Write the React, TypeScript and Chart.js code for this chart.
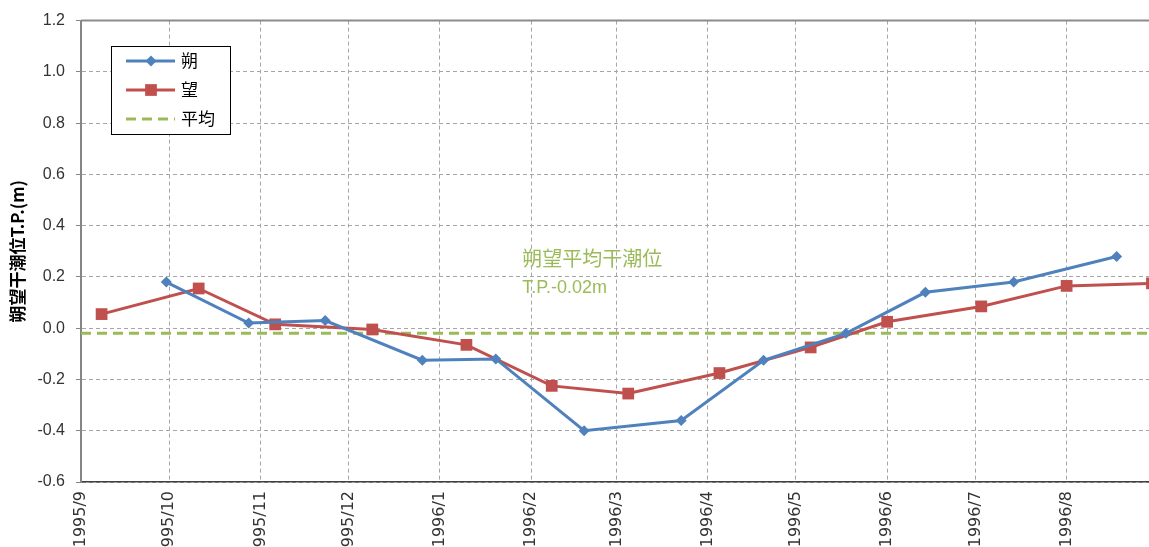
import React, { useEffect, useRef } from 'react';
import { Chart, registerables } from 'chart.js';

Chart.register(...registerables);

// ---- data ----
const xTickLabels = ['1995/9', '1995/10', '1995/11', '1995/12', '1996/1', '1996/2', '1996/3', '1996/4', '1996/5', '1996/6', '1996/7', '1996/8'];
const axisStart = '1995-09-01';
const axisEnd = '1996-08-29';

const seriesNames = ['朔', '望', '平均'];

const newMoonDates = ['1995-09-30', '1995-10-28', '1995-11-23', '1995-12-26', '1996-01-20', '1996-02-19', '1996-03-23', '1996-04-20', '1996-05-18', '1996-06-14', '1996-07-14', '1996-08-18'];
const newMoonLevels = [0.18, 0.02, 0.03, -0.125, -0.12, -0.4, -0.36, -0.125, -0.02, 0.14, 0.18, 0.28];

const fullMoonDates = ['1995-09-08', '1995-10-11', '1995-11-06', '1995-12-09', '1996-01-10', '1996-02-08', '1996-03-05', '1996-04-05', '1996-05-06', '1996-06-01', '1996-07-03', '1996-08-01', '1996-08-30'];
const fullMoonLevels = [0.055, 0.155, 0.015, -0.005, -0.065, -0.225, -0.255, -0.175, -0.075, 0.025, 0.085, 0.165, 0.175];

const meanLowWater = -0.02;

const yMin = -0.6;
const yMax = 1.2;
const yStep = 0.2;

const yAxisTitle = '朔望干潮位T.P.(m)';
const annotationLines = ['朔望平均干潮位', 'T.P.-0.02m'];
const annotationDate = '1996-01-29';
const annotationLevel = 0.3;

// ---- helpers ----
const LATIN = "'Liberation Sans', 'Noto Sans CJK JP', sans-serif";
const WIDE = "'DejaVu Sans', 'Liberation Sans', sans-serif";
const CJK = "'Noto Sans CJK JP', 'Liberation Sans', sans-serif";

function parseDay(s: string): number {
  const parts = s.split(/[-/]/).map(Number);
  return Date.UTC(parts[0], parts[1] - 1, parts[2] || 1);
}
const originMs = parseDay(axisStart);
function dayIndex(s: string): number {
  return Math.round((parseDay(s) - originMs) / 86400000);
}

const monthTickValues = xTickLabels.map((l) => dayIndex(l));
const xMaxDay = dayIndex(axisEnd);

const BLUE = '#4F81BD';
const RED = '#C0504D';
const GREEN = '#9BBB59';
const GRID = '#a6a6a6';

function drawMarker(ctx: CanvasRenderingContext2D, style: string, x: number, y: number, r: number, color: string) {
  ctx.save();
  ctx.setLineDash([]);
  ctx.fillStyle = color;
  ctx.beginPath();
  if (style === 'rect') {
    const s = r * Math.SQRT1_2;
    ctx.rect(x - s, y - s, 2 * s, 2 * s);
  } else if (style === 'rectRot') {
    ctx.moveTo(x, y - r);
    ctx.lineTo(x + r, y);
    ctx.lineTo(x, y + r);
    ctx.lineTo(x - r, y);
    ctx.closePath();
  }
  ctx.fill();
  ctx.restore();
}

const frameAndLegendPlugin = {
  id: 'frameAndLegend',
  afterDatasetsDraw(chart: any) {
    const { ctx, chartArea, scales } = chart;
    ctx.save();
    // solid top border of the plot area
    ctx.strokeStyle = '#8c8c8c';
    ctx.lineWidth = 2;
    ctx.setLineDash([]);
    ctx.beginPath();
    ctx.moveTo(chartArea.left, chartArea.top);
    ctx.lineTo(chartArea.right, chartArea.top);
    ctx.stroke();

    // annotation text
    const ax = scales.x.getPixelForValue(dayIndex(annotationDate));
    const ay = scales.y.getPixelForValue(annotationLevel);
    ctx.fillStyle = GREEN;
    ctx.textBaseline = 'top';
    ctx.textAlign = 'left';
    ctx.font = `20px ${CJK}`;
    ctx.fillText(annotationLines[0], ax, ay - 3);
    ctx.font = `18px ${LATIN}`;
    ctx.fillText(annotationLines[1], ax, ay + 28);
    ctx.restore();
  },
  afterDraw(chart: any) {
    const { ctx } = chart;
    const bx = 111, by = 46, bw = 119, bh = 88;
    ctx.save();
    ctx.fillStyle = '#ffffff';
    ctx.fillRect(bx, by, bw, bh);
    ctx.strokeStyle = '#000000';
    ctx.lineWidth = 1;
    ctx.setLineDash([]);
    ctx.strokeRect(bx + 0.5, by + 0.5, bw, bh);
    chart.data.datasets.forEach((ds: any, i: number) => {
      const y = by + 15 + i * 29;
      ctx.strokeStyle = ds.borderColor;
      ctx.lineWidth = ds.borderWidth;
      ctx.setLineDash(ds.borderDash || []);
      ctx.beginPath();
      ctx.moveTo(126, y);
      ctx.lineTo(175, y);
      ctx.stroke();
      if (ds.pointRadius > 0) {
        drawMarker(ctx, ds.pointStyle, 151, y, ds.pointRadius, ds.backgroundColor);
      }
      ctx.fillStyle = '#000000';
      ctx.font = `17px ${CJK}`;
      ctx.textBaseline = 'middle';
      ctx.textAlign = 'left';
      ctx.fillText(ds.label, 181, y);
    });
    ctx.restore();
  },
};

export default function App() {
  const canvasRef = useRef<HTMLCanvasElement | null>(null);

  useEffect(() => {
    document.body.style.margin = '0';
    const canvas = canvasRef.current;
    if (!canvas) return;

    const chart = new Chart(canvas, {
      type: 'line',
      data: {
        datasets: [
          {
            label: seriesNames[0],
            data: newMoonDates.map((d, i) => ({ x: dayIndex(d), y: newMoonLevels[i] })),
            borderColor: BLUE,
            backgroundColor: BLUE,
            borderWidth: 3,
            pointStyle: 'rectRot',
            pointRadius: 5.5,
            pointHoverRadius: 5.5,
            pointBorderWidth: 0,
            tension: 0,
            clip: false,
          } as any,
          {
            label: seriesNames[1],
            data: fullMoonDates.map((d, i) => ({ x: dayIndex(d), y: fullMoonLevels[i] })),
            borderColor: RED,
            backgroundColor: RED,
            borderWidth: 3,
            pointStyle: 'rect',
            pointRadius: 8.3,
            pointHoverRadius: 8.3,
            pointBorderWidth: 0,
            tension: 0,
            clip: false,
          } as any,
          {
            label: seriesNames[2],
            data: [
              { x: 0, y: meanLowWater },
              { x: xMaxDay, y: meanLowWater },
            ],
            borderColor: GREEN,
            backgroundColor: GREEN,
            borderWidth: 3,
            borderDash: [10, 6],
            pointRadius: 0,
            pointHoverRadius: 0,
            tension: 0,
          } as any,
        ],
      },
      options: {
        animation: false,
        responsive: false,
        maintainAspectRatio: false,
        layout: { autoPadding: false, padding: { top: 16, right: 0, bottom: 0, left: 0 } },
        plugins: {
          legend: { display: false },
          tooltip: { enabled: false },
        },
        scales: {
          x: {
            type: 'linear',
            min: 0,
            max: xMaxDay,
            afterBuildTicks: (scale: any) => {
              scale.ticks = monthTickValues.map((v) => ({ value: v }));
            },
            afterFit: (scale: any) => {
              scale.height = 65;
              scale.paddingRight = 0;
              scale.paddingLeft = 0;
            },
            ticks: {
              autoSkip: false,
              minRotation: 90,
              maxRotation: 90,
              padding: 9,
              color: '#333333',
              font: { family: WIDE, size: 16 },
              callback: (_v: any, index: number) => xTickLabels[index],
            },
            grid: { color: GRID, lineWidth: 1, drawTicks: false },
            border: { display: true, color: '#404040', width: 1.5, dash: [4, 3] },
          },
          y: {
            min: yMin,
            max: yMax,
            afterFit: (scale: any) => {
              scale.width = 81;
            },
            ticks: {
              stepSize: yStep,
              padding: 11,
              color: '#333333',
              font: { family: LATIN, size: 16 },
              callback: (v: any) => (Math.abs(Number(v)) < 1e-9 ? '0.0' : Number(v).toFixed(1)),
            },
            grid: { color: GRID, lineWidth: 1, tickLength: 5, tickColor: '#868686', tickBorderDash: [] },
            border: { display: true, color: '#868686', width: 2, dash: [4, 3] },
            title: {
              display: true,
              text: yAxisTitle,
              color: '#000000',
              font: { family: CJK, size: 17, weight: 'bold' },
              padding: { top: 7, bottom: 0 },
            },
          },
        },
      } as any,
      plugins: [frameAndLegendPlugin],
    });

    return () => chart.destroy();
  }, []);

  return (
    <div style={{ width: 1149, height: 547 }}>
      <canvas ref={canvasRef} width={1149} height={547} style={{ display: 'block' }} />
    </div>
  );
}
